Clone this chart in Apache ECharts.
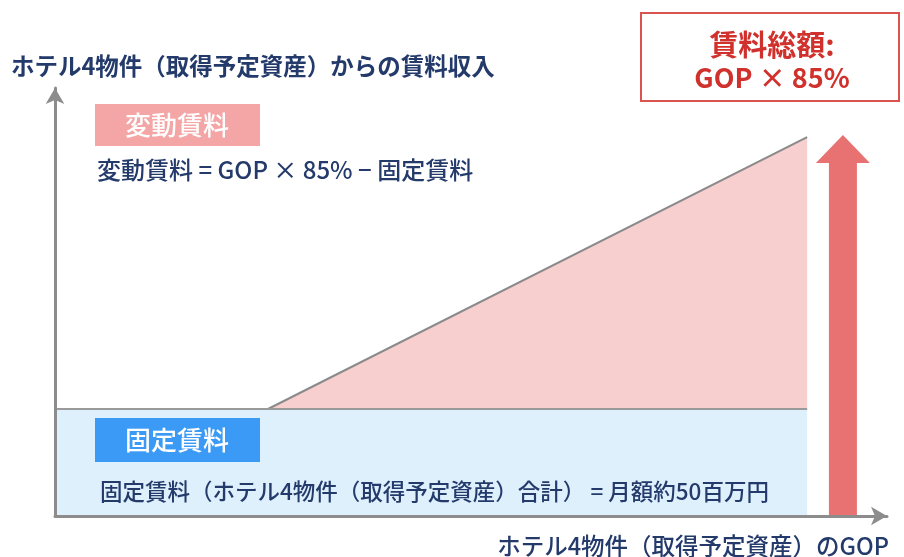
<!DOCTYPE html>
<html>
<head>
<meta charset="utf-8">
<script src="https://cdn.jsdelivr.net/npm/echarts@6/dist/echarts.min.js"></script>
<style>
  html, body { margin: 0; padding: 0; background: #fff; }
  #chart { width: 904px; height: 557px; }
</style>
</head>
<body>
<div id="chart"></div>
<script>
// GOP (x) and rent (y), both as % of the drawn axis length
var fixedRent = 25;
var fixedLine = [[0, 25], [90.4, 25]];
var variableLine = [[25.6, 25], [90.4, 88.5]];
var totalArrow = [[94.7, 89]];

var yAxisName = 'ホテル4物件（取得予定資産）からの賃料収入';
var xAxisName = 'ホテル4物件（取得予定資産）のGOP';
var variableLabel = '変動賃料';
var variableFormula = '変動賃料 = GOP × 85% − 固定賃料';
var fixedLabel = '固定賃料';
var fixedFormula = '固定賃料（ホテル4物件（取得予定資産）合計） = 月額約50百万円';
var totalLines = ['賃料総額:', 'GOP × 85%'];

var FONT = '"Noto Sans CJK JP", "Noto Sans", sans-serif';
var NAVY = '#233a6b';

var chart = echarts.init(document.getElementById('chart'));

var axisCommon = {
    type: 'value',
    min: 0,
    max: 100,
    z: 10,
    axisLine: {
        show: true,
        symbol: ['none', 'arrow'],
        symbolSize: [14, 16],
        lineStyle: { color: '#8c8c8c', width: 3 }
    },
    axisTick: { show: false },
    axisLabel: { show: false },
    splitLine: { show: false }
};

function arrowItem(params, api) {
    var top = api.coord([api.value(0), api.value(1)]);
    var base = api.coord([api.value(0), 0]);
    var shaft = 14, head = 27, headH = 28;
    var x = top[0], y = top[1];
    return {
        type: 'polygon',
        shape: {
            points: [
                [x, y],
                [x + head, y + headH],
                [x + shaft, y + headH],
                [x + shaft, base[1] - 1],
                [x - shaft, base[1] - 1],
                [x - shaft, y + headH],
                [x - head, y + headH]
            ]
        },
        style: { fill: '#e87171' }
    };
}

function text(x, y, str, font, fill, align) {
    return {
        type: 'text', x: x, y: y, z: 100,
        style: { text: str, font: font, fill: fill, align: align || 'left', verticalAlign: 'middle' }
    };
}

var option = {
    animation: false,
    grid: { left: 55, right: 17, top: 88, bottom: 41 },
    xAxis: axisCommon,
    yAxis: axisCommon,
    series: [
        {
            type: 'line',
            data: variableLine,
            symbol: 'none',
            lineStyle: { color: '#8a8a8a', width: 2 },
            areaStyle: { color: '#f8cfcf', opacity: 1, origin: fixedRent }
        },
        {
            type: 'line',
            data: fixedLine,
            symbol: 'none',
            lineStyle: { color: '#9a9a9a', width: 2 },
            areaStyle: { color: '#dff0fd', opacity: 1, origin: 'start' }
        },
        {
            type: 'custom',
            data: totalArrow,
            renderItem: arrowItem
        }
    ],
    graphic: [
        text(11, 66, yAxisName, '600 23.5px ' + FONT, NAVY),
        text(889, 546, xAxisName, '500 23.5px ' + FONT, NAVY, 'right'),
        { type: 'rect', z: 100, shape: { x: 95, y: 104, width: 165, height: 42 }, style: { fill: '#f4a5a5' } },
        text(177, 125, variableLabel, '500 26px ' + FONT, '#fff', 'center'),
        text(97, 170, variableFormula, '500 24px ' + FONT, NAVY),
        { type: 'rect', z: 100, shape: { x: 95, y: 418, width: 165, height: 44 }, style: { fill: '#3a9af5' } },
        text(177, 440, fixedLabel, '500 26px ' + FONT, '#fff', 'center'),
        text(100, 491, fixedFormula, '500 22.5px ' + FONT, NAVY),
        { type: 'rect', z: 100, shape: { x: 641, y: 13, width: 258, height: 88 }, style: { fill: '#fff', stroke: '#d9534f', lineWidth: 2 } },
        text(772, 45, totalLines[0], 'bold 29px ' + FONT, '#d0312d', 'center'),
        text(772, 78, totalLines[1], 'bold 27px ' + FONT, '#d0312d', 'center')
    ]
};

chart.setOption(option);
</script>
</body>
</html>
